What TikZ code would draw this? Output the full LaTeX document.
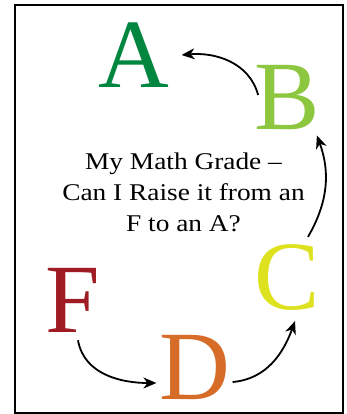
\documentclass[tikz,border=0pt]{standalone}
\usepackage{fontspec}
\setmainfont{Liberation Serif}
\newfontfamily\titlefont{Liberation Serif}[FakeStretch=1.14]
\usepackage{tikz}
\usetikzlibrary{arrows.meta,calc,positioning}
\definecolor{gradeA}{RGB}{0,134,62}
\definecolor{gradeB}{RGB}{141,198,63}
\definecolor{gradeC}{RGB}{222,226,30}
\definecolor{gradeD}{RGB}{214,108,40}
\definecolor{gradeF}{RGB}{160,28,36}

\begin{document}
\begin{tikzpicture}[x=1pt, y=-1pt,
  grade/.style={inner sep=0pt, font=\fontsize{98}{98}\selectfont},
  arr/.style={line width=1.8pt, -{Stealth[length=13pt,width=11pt,inset=4pt]}}]
\useasboundingbox (0,0) rectangle (346,414);
% cornice
\draw[line width=2pt] (15,5) rectangle (343,412.5);
% voti
\node[grade, text=gradeA] (A) at (134,55) {A};
\node[grade, text=gradeB] (B) at (287,98) {B};
\node[grade, text=gradeC] (C) at (287,278) {C};
\node[grade, text=gradeD] (D) at (195,368) {D};
\node[grade, text=gradeF] (F) at (73,300) {F};
% titolo al centro
\node[align=center, font=\titlefont\fontsize{24}{31}\selectfont] (title) at (183.5,192.7)
  {My Math Grade –\\Can I Raise it from an\\F to an A?};
% frecce F -> D -> C -> B -> A
\draw[arr] ([xshift=5pt,yshift=-8pt]F.south) to[out=-80,in=180] ([xshift=-3pt,yshift=-15pt]D.west);
\draw[arr] ([xshift=2pt,yshift=-14pt]D.east) to[out=5,in=-110] ([xshift=8pt,yshift=-10pt]C.south);
\draw[arr] ([xshift=21pt,yshift=8pt]C.north) to[out=60,in=-70] ([xshift=-3pt,yshift=-5pt]B.south east);
\draw[arr] ([xshift=4pt,yshift=3pt]B.west) to[out=105,in=5] ([xshift=12pt]A.east);
\end{tikzpicture}
\end{document}
